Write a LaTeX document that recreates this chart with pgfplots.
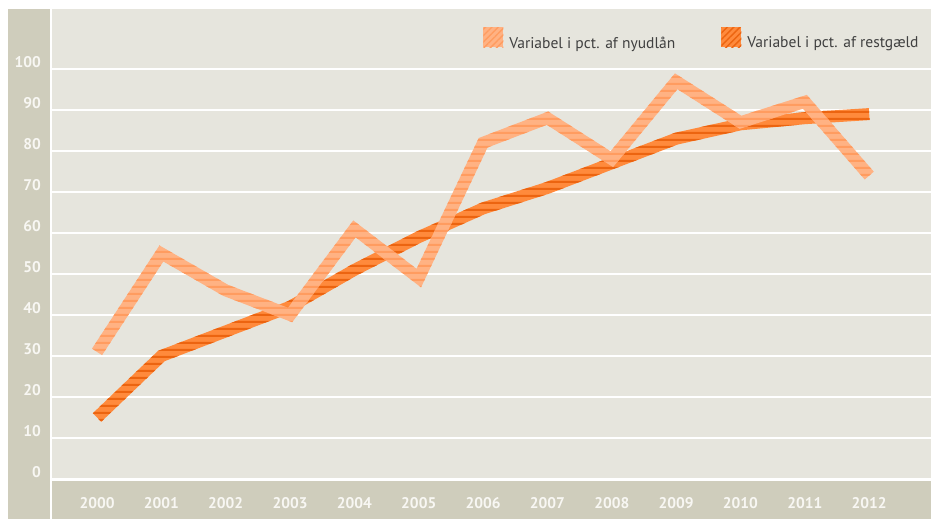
\documentclass[border=0pt]{standalone}
\usepackage{pgfplots}
\pgfplotsset{compat=1.18}
\usepackage{fontspec}
\setmainfont{PT Sans}
\usetikzlibrary{patterns.meta}
\definecolor{bg}{HTML}{E6E5DD}
\definecolor{strip}{HTML}{CFCDBC}
\definecolor{ticktext}{HTML}{F8F7F3}
\definecolor{legtext}{HTML}{404040}
\definecolor{lightbase}{HTML}{FFB283}
\definecolor{lightstripe}{HTML}{FF9C60}
\definecolor{darkbase}{HTML}{FF8A3C}
\definecolor{darkstripe}{HTML}{EC6410}

\pgfplotstableread{
year ny
2000 31
2001 55
2002 46
2003 40
2004 61
2005 49
2006 82
2007 88
2008 78
2009 97
2010 87
2011 92
2012 74
}\nyudlaan
\pgfplotstableread{
year rest
2000 15
2001 30
2002 36
2003 42
2004 51
2005 59
2006 66
2007 71
2008 77
2009 83
2010 86.5
2011 88
2012 89
}\restgaeld

\pgfplotsset{
  base/.style={scale only axis, width=879bp, height=470bp,
    xmin=1999.30, xmax=2012.96, ymin=0, ymax=114.63,
    at={(52bp,40bp)}, anchor=south west},
  hidden/.style={base, hide axis},
  thickline/.style={line width=12bp, line join=miter, line cap=butt},
}

\begin{document}
\begin{tikzpicture}
\useasboundingbox (0,0) rectangle (931bp,519bp);
\fill[white] (0,0) rectangle (931bp,519bp);
\fill[strip] (8bp,0) rectangle (50bp,510bp);
\fill[strip] (52bp,0) rectangle (931bp,38bp);

% main axis: background, grid, ticks, dark line
\begin{axis}[base,
  axis background/.style={fill=bg},
  axis line style={draw=none},
  major tick length=0pt,
  ytick={0,10,...,100},
  xtick={2000,...,2012},
  ymajorgrids, grid style={white, line width=1.7bp},
  /pgf/number format/assume math mode=true,
  xticklabel={\pgfmathprintnumber[1000 sep={}]{\tick}},
  tick label style={font=\bfseries\fontsize{15.5}{16}\selectfont, text=ticktext},
  y tick label style={anchor=south east, inner sep=0pt, xshift=-11bp, yshift=1bp},
  x tick label style={anchor=base, inner sep=0pt, yshift=-29bp},
]
\addplot[darkbase, thickline] table[x=year, y=rest] {\restgaeld};
\end{axis}

% dark stripes
\begin{scope}
\clip foreach \i in {0,...,75} {(0bp,\i*7bp) rectangle (931bp,\i*7bp+2.2bp)};
\begin{axis}[hidden]
\addplot[darkstripe, thickline] table[x=year, y=rest] {\restgaeld};
\end{axis}
\end{scope}

% light line with legend
\begin{axis}[hidden,
  legend columns=2,
  legend style={at={(axis description cs:0.4904,0.931)}, anchor=west,
    draw=none, fill=none, inner sep=0pt,
    font=\fontsize{15.6}{16}\selectfont, text=legtext,
    nodes={inner sep=6bp},
    /tikz/every even column/.append style={column sep=40bp}},
]
\addlegendimage{legend image code/.code={
  \fill[lightbase, draw=none] (0bp,-4bp) rectangle (20bp,16bp);
  \fill[draw=none, pattern={Lines[angle=45,distance=4.5bp,line width=1.4bp]}, pattern color=lightstripe] (0bp,-4bp) rectangle (20bp,16bp);}}
\addlegendimage{legend image code/.code={
  \fill[darkbase, draw=none] (0bp,-4bp) rectangle (20bp,16bp);
  \fill[draw=none, pattern={Lines[angle=45,distance=4.5bp,line width=1.4bp]}, pattern color=darkstripe] (0bp,-4bp) rectangle (20bp,16bp);}}
\addplot[lightbase, thickline, forget plot] table[x=year, y=ny] {\nyudlaan};
\legend{Variabel i pct. af nyudlån, Variabel i pct. af restgæld}
\end{axis}

% light stripes
\begin{scope}
\clip foreach \i in {0,...,75} {(0bp,\i*7bp) rectangle (931bp,\i*7bp+2.2bp)};
\begin{axis}[hidden]
\addplot[lightstripe, thickline] table[x=year, y=ny] {\nyudlaan};
\end{axis}
\end{scope}
\end{tikzpicture}
\end{document}
